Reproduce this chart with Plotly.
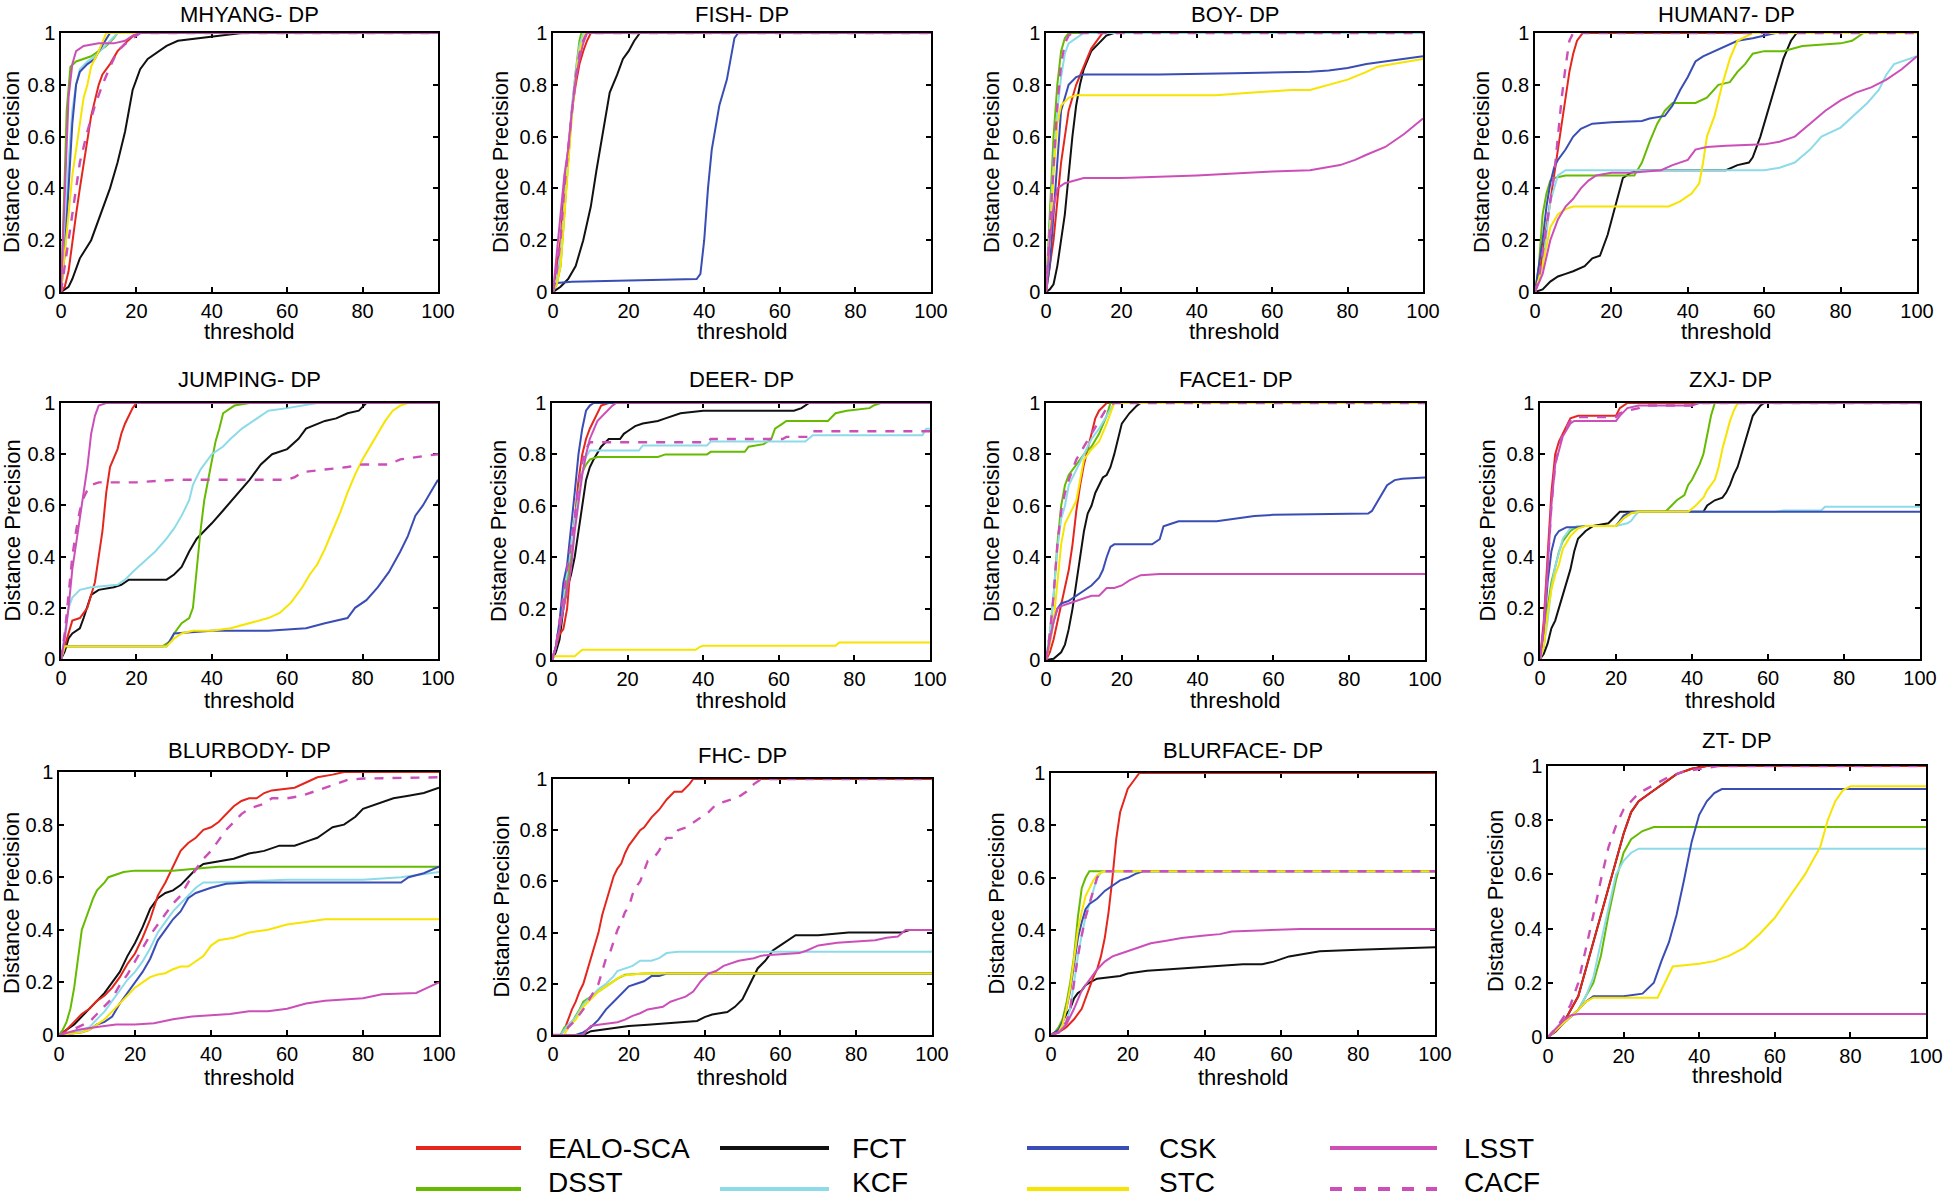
import plotly.graph_objects as go

# ---------------- data ----------------
SERIES = ["EALO-SCA", "FCT", "CSK", "LSST", "DSST", "KCF", "STC", "CACF"]
DRAW_ORDER = ["FCT", "EALO-SCA", "DSST", "KCF", "CSK", "STC", "LSST", "CACF"]
COLORS = {"EALO-SCA": "#e5261c", "FCT": "#111111", "CSK": "#3a4db5", "LSST": "#cc4fb8",
          "DSST": "#66bb00", "KCF": "#8ddbe8", "STC": "#f7e400", "CACF": "#cc4fb8"}
X_TICKS = [0, 20, 40, 60, 80, 100]
Y_TICKS = [0, 0.2, 0.4, 0.6, 0.8, 1]
TITLES = ["MHYANG- DP", "FISH- DP", "BOY- DP", "HUMAN7- DP", "JUMPING- DP", "DEER- DP",
          "FACE1- DP", "ZXJ- DP", "BLURBODY- DP", "FHC- DP", "BLURFACE- DP", "ZT- DP"]

MHYANG = {
    "EALO-SCA": [(0,0),(1,0.02),(2,0.08),(3,0.2),(4,0.3),(5,0.4),(6,0.5),(7,0.6),(8,0.68),(10,0.8),(11,0.84),(13,0.88),(15,0.93),(17,0.96),(20,1),(100,1)],
    "FCT": [(0,0),(2,0.02),(3,0.05),(5,0.13),(8,0.2),(11,0.32),(13,0.4),(15,0.5),(17,0.62),(18,0.7),(19,0.78),(20,0.82),(21,0.86),(23,0.9),(25,0.92),(28,0.95),(31,0.97),(40,0.985),(45,0.995),(48,1),(100,1)],
    "CSK": [(0,0),(1,0.15),(2,0.4),(3,0.65),(4,0.8),(5,0.85),(7,0.88),(9,0.9),(10,0.93),(12,0.98),(13,1),(100,1)],
    "LSST": [(0,0),(0.5,0.2),(1,0.4),(1.5,0.6),(2,0.75),(3,0.88),(4,0.93),(6,0.95),(10,0.96),(14,0.96),(17,0.97),(19,0.99),(21,1),(100,1)],
    "DSST": [(0,0),(0.5,0.2),(1,0.45),(1.5,0.7),(2,0.8),(2.5,0.87),(4,0.89),(6,0.9),(8,0.91),(10,0.93),(12,0.95),(14,0.98),(15,1),(100,1)],
    "KCF": [(0,0),(1,0.2),(2,0.5),(3,0.7),(4,0.8),(5,0.86),(7,0.89),(9,0.91),(11,0.94),(13,0.97),(15,1),(100,1)],
    "STC": [(0,0),(1,0.15),(2,0.3),(3,0.45),(4,0.55),(5,0.65),(6,0.75),(7,0.8),(8,0.87),(10,0.93),(12,1),(100,1)],
    "CACF": [(0,0),(1,0.1),(2,0.2),(3,0.3),(4,0.4),(5,0.5),(7,0.62),(9,0.72),(11,0.8),(13,0.87),(15,0.93),(18,0.97),(21,1),(100,1)],
}
FISH = {
    "EALO-SCA": [(0,0),(1,0.1),(2,0.2),(3,0.4),(4,0.55),(5,0.7),(6,0.8),(7,0.88),(8,0.93),(9,0.97),(10,1),(100,1)],
    "FCT": [(0,0),(2,0.02),(4,0.05),(6,0.1),(8,0.2),(10,0.33),(11.5,0.47),(13,0.6),(14,0.7),(15,0.77),(17,0.84),(18.5,0.9),(20,0.93),(21.5,0.97),(23,1),(100,1)],
    "CSK": [(0,0.02),(1,0.035),(5,0.04),(20,0.045),(30,0.05),(38,0.05),(39,0.07),(40,0.2),(41,0.4),(42,0.55),(44,0.72),(46,0.82),(47,0.9),(48,0.98),(49,1),(100,1)],
    "LSST": [(0,0),(1,0.15),(2,0.3),(3,0.45),(4,0.55),(5,0.7),(6,0.82),(7,0.9),(8,0.96),(9,1),(100,1)],
    "DSST": [(0,0),(1,0.03),(2,0.1),(3,0.3),(4,0.5),(5,0.7),(6,0.85),(7,0.97),(7.5,1),(100,1)],
    "KCF": [(0,0),(1,0.05),(2,0.15),(3,0.35),(4,0.55),(5,0.72),(6,0.85),(7,0.95),(8,1),(100,1)],
    "STC": [(0,0.01),(1,0.03),(2,0.1),(3,0.3),(4,0.5),(5,0.68),(6,0.83),(7,0.93),(8.5,1),(100,1)],
    "CACF": [(0,0),(1,0.08),(2,0.2),(3,0.4),(4,0.55),(5,0.7),(6,0.83),(7,0.92),(8,0.97),(9,1),(100,1)],
}
BOY = {
    "EALO-SCA": [(0,0),(1,0.1),(2,0.2),(3,0.35),(4,0.5),(5,0.6),(6,0.7),(8,0.8),(10,0.87),(12,0.94),(14,0.98),(15,1),(100,1)],
    "FCT": [(0,0),(1,0.01),(2,0.03),(3,0.1),(4,0.2),(5,0.3),(6,0.45),(7,0.6),(8,0.72),(9,0.8),(10,0.86),(12,0.93),(14,0.96),(16,0.99),(18,1),(100,1)],
    "CSK": [(0,0),(1,0.1),(2,0.3),(3,0.5),(4,0.7),(6,0.8),(8,0.83),(10,0.84),(30,0.84),(50,0.845),(70,0.85),(75,0.855),(80,0.865),(85,0.88),(90,0.89),(95,0.9),(100,0.91)],
    "LSST": [(0,0),(1,0.2),(2,0.33),(3,0.4),(5,0.42),(10,0.44),(20,0.44),(40,0.45),(60,0.465),(70,0.47),(78,0.49),(82,0.51),(85,0.53),(90,0.56),(95,0.61),(100,0.67)],
    "DSST": [(0,0),(1,0.3),(2,0.6),(3,0.8),(4,0.93),(5,0.98),(6,1),(100,1)],
    "KCF": [(0,0),(1,0.25),(2,0.5),(3,0.7),(4,0.83),(5,0.92),(6,0.96),(8,0.98),(10,1),(100,1)],
    "STC": [(0,0),(1,0.2),(2,0.45),(3,0.65),(4,0.72),(6,0.75),(8,0.76),(20,0.76),(45,0.76),(55,0.77),(65,0.78),(70,0.78),(75,0.8),(80,0.82),(85,0.85),(88,0.87),(92,0.88),(100,0.9)],
    "CACF": [(0,0),(1,0.25),(2,0.5),(3,0.72),(4,0.88),(5,0.96),(6,0.99),(7,1),(100,1)],
}
HUMAN7 = {
    "EALO-SCA": [(0,0),(1,0.05),(2,0.15),(3,0.25),(4,0.35),(5,0.45),(6,0.55),(7,0.65),(8,0.75),(9,0.85),(10,0.92),(11,0.97),(12.5,1),(100,1)],
    "FCT": [(0,0),(2,0.01),(4,0.04),(6,0.06),(8,0.07),(10,0.08),(13,0.1),(15,0.13),(17,0.14),(19,0.22),(21,0.33),(23,0.44),(25,0.46),(28,0.47),(50,0.47),(53,0.49),(56,0.5),(57,0.52),(59,0.6),(61,0.7),(63,0.8),(65,0.9),(67,0.97),(68.5,1),(100,1)],
    "CSK": [(0,0),(1,0.1),(2,0.2),(3,0.33),(4,0.42),(5,0.48),(6,0.51),(8,0.55),(10,0.6),(12,0.63),(15,0.65),(20,0.655),(28,0.66),(30,0.67),(34,0.68),(36,0.72),(38,0.78),(40,0.83),(42,0.89),(44,0.91),(47,0.93),(50,0.95),(53,0.97),(57,0.98),(60,0.99),(63,1),(100,1)],
    "LSST": [(0,0),(2,0.07),(4,0.2),(6,0.28),(8,0.33),(10,0.36),(12,0.4),(14,0.43),(16,0.45),(20,0.46),(25,0.46),(33,0.47),(36,0.49),(40,0.51),(42,0.55),(45,0.56),(50,0.565),(60,0.57),(64,0.58),(68,0.6),(72,0.65),(76,0.7),(80,0.74),(84,0.77),(88,0.79),(92,0.82),(96,0.86),(100,0.91)],
    "DSST": [(0,0),(1,0.1),(2,0.3),(3,0.38),(4,0.43),(5,0.44),(8,0.45),(20,0.45),(26,0.45),(28,0.5),(30,0.58),(32,0.65),(34,0.7),(36,0.73),(42,0.73),(45,0.75),(48,0.8),(51,0.81),(53,0.85),(55,0.88),(57,0.92),(60,0.93),(65,0.93),(70,0.95),(80,0.96),(83,0.97),(86,1),(100,1)],
    "KCF": [(0,0),(2,0.1),(4,0.35),(6,0.45),(8,0.47),(20,0.47),(40,0.47),(60,0.47),(64,0.48),(68,0.5),(72,0.55),(75,0.6),(80,0.635),(84,0.69),(87,0.73),(90,0.78),(92,0.84),(94,0.88),(97,0.895),(100,0.91)],
    "STC": [(0,0),(2,0.1),(4,0.25),(6,0.3),(8,0.32),(10,0.33),(20,0.33),(35,0.33),(38,0.35),(41,0.38),(43,0.42),(44,0.5),(45,0.6),(47,0.68),(49,0.8),(51,0.9),(53,0.97),(57,1),(100,1)],
    "CACF": [(0,0),(1,0.05),(2,0.15),(3,0.25),(4,0.35),(5,0.45),(6,0.6),(7,0.75),(8,0.87),(9,0.97),(10,1),(100,1)],
}
JUMPING = {
    "EALO-SCA": [(0,0),(1,0.05),(2,0.1),(3,0.15),(5,0.16),(6,0.18),(7,0.2),(8,0.25),(9,0.3),(10,0.4),(11,0.5),(12,0.65),(13,0.75),(15,0.82),(16,0.88),(17,0.92),(19,0.98),(20,1),(100,1)],
    "FCT": [(0,0),(1,0.03),(2,0.08),(3,0.1),(5,0.12),(6,0.16),(8,0.25),(10,0.27),(14,0.28),(16,0.29),(18,0.31),(28,0.31),(30,0.33),(32,0.36),(34,0.42),(36,0.47),(38,0.5),(40,0.53),(43,0.58),(46,0.63),(50,0.7),(53,0.76),(56,0.8),(60,0.82),(63,0.86),(65,0.9),(70,0.93),(73,0.94),(76,0.96),(79,0.97),(81,1),(100,1)],
    "CSK": [(0,0),(1,0.05),(28,0.05),(30,0.1),(40,0.11),(55,0.11),(60,0.115),(65,0.12),(70,0.14),(76,0.16),(78,0.2),(81,0.23),(84,0.28),(87,0.34),(90,0.42),(92,0.48),(94,0.56),(96,0.6),(98,0.65),(100,0.7)],
    "LSST": [(0,0),(1,0.08),(2,0.2),(3,0.35),(4,0.45),(5,0.55),(6,0.65),(7,0.75),(8,0.88),(9,0.95),(10,0.99),(12,1),(100,1)],
    "DSST": [(0,0),(1,0.05),(10,0.05),(20,0.05),(27,0.05),(29,0.07),(30,0.1),(32,0.14),(34,0.16),(35,0.2),(36,0.35),(37,0.5),(38,0.62),(39,0.7),(40,0.78),(41,0.85),(42,0.9),(43,0.96),(46,0.99),(50,1),(100,1)],
    "KCF": [(0,0),(1,0.1),(2,0.2),(3,0.24),(5,0.27),(8,0.28),(15,0.29),(17,0.31),(19,0.34),(22,0.38),(25,0.42),(28,0.47),(30,0.51),(32,0.56),(34,0.62),(35,0.68),(37,0.74),(40,0.8),(43,0.83),(45,0.86),(48,0.9),(52,0.94),(55,0.97),(60,0.98),(68,1),(100,1)],
    "STC": [(0,0),(1,0.05),(10,0.05),(28,0.05),(30,0.08),(32,0.1),(35,0.11),(40,0.11),(45,0.12),(50,0.14),(55,0.16),(58,0.18),(61,0.22),(64,0.28),(66,0.33),(68,0.37),(70,0.43),(72,0.5),(74,0.57),(76,0.65),(78,0.72),(80,0.78),(82,0.83),(84,0.88),(86,0.93),(88,0.97),(90,0.99),(92,1),(100,1)],
    "CACF": [(0,0),(1,0.1),(2,0.25),(3,0.4),(4,0.5),(5,0.58),(6,0.63),(7,0.66),(8,0.68),(10,0.69),(20,0.69),(30,0.7),(50,0.7),(60,0.7),(62,0.71),(64,0.73),(70,0.74),(76,0.75),(80,0.76),(87,0.76),(90,0.78),(95,0.79),(100,0.8)],
}
DEER = {
    "EALO-SCA": [(0,0),(1,0.05),(2,0.1),(3,0.12),(4,0.2),(5,0.38),(6,0.55),(7,0.7),(8,0.8),(9,0.86),(10,0.9),(11,0.93),(12,0.96),(13,0.99),(15,1),(100,1)],
    "FCT": [(0,0),(1,0.03),(2,0.08),(3,0.2),(4,0.28),(5,0.33),(6,0.4),(7,0.5),(8,0.6),(9,0.7),(10,0.75),(11,0.78),(13,0.83),(15,0.86),(18,0.86),(19,0.88),(20,0.89),(22,0.91),(24,0.92),(28,0.93),(30,0.94),(34,0.96),(40,0.97),(64,0.97),(66,0.98),(68,1),(100,1)],
    "CSK": [(0,0),(1,0.05),(2,0.15),(3,0.3),(4,0.37),(5,0.5),(6,0.65),(7,0.8),(8,0.9),(9,0.97),(10,0.99),(11,1),(100,1)],
    "LSST": [(0,0),(1,0.05),(2,0.12),(3,0.2),(4,0.28),(5,0.35),(6,0.5),(7,0.62),(8,0.72),(9,0.8),(10,0.86),(12,0.93),(14,0.96),(16,0.99),(17,1),(100,1)],
    "DSST": [(0,0),(1,0.05),(2,0.12),(3,0.22),(4,0.3),(5,0.4),(6,0.55),(7,0.65),(8,0.73),(9,0.76),(10,0.78),(12,0.79),(20,0.79),(28,0.79),(30,0.8),(41,0.8),(42,0.81),(51,0.81),(52,0.83),(56,0.84),(58,0.86),(59,0.9),(61,0.92),(62,0.93),(73,0.93),(75,0.96),(78,0.97),(84,0.98),(85,0.99),(87,1),(100,1)],
    "KCF": [(0,0),(1,0.05),(2,0.15),(3,0.25),(4,0.35),(5,0.45),(6,0.55),(7,0.65),(8,0.73),(9,0.79),(10,0.815),(23,0.815),(24,0.835),(41,0.835),(42,0.85),(67,0.85),(69,0.875),(98,0.875),(99,0.9),(100,0.9)],
    "STC": [(0,0.015),(6,0.015),(8,0.04),(20,0.04),(38,0.04),(39,0.05),(40,0.055),(75,0.055),(76,0.068),(100,0.068)],
    "CACF": [(0,0),(1,0.05),(2,0.15),(3,0.25),(4,0.33),(5,0.43),(6,0.55),(7,0.68),(8,0.77),(9,0.82),(10,0.847),(41,0.847),(42,0.86),(61,0.86),(62,0.868),(68,0.868),(69,0.89),(100,0.89)],
}
FACE1 = {
    "EALO-SCA": [(0,0),(1,0.03),(2,0.08),(3,0.15),(4,0.22),(5,0.28),(6,0.35),(7,0.45),(8,0.58),(9,0.68),(10,0.76),(11,0.82),(12,0.88),(13,0.94),(14,0.97),(16,1),(100,1)],
    "FCT": [(0,0),(2,0.005),(4,0.03),(5,0.06),(6,0.12),(7,0.2),(8,0.3),(9,0.4),(10,0.5),(11,0.57),(12,0.6),(13,0.65),(15,0.71),(16,0.72),(17,0.75),(18,0.8),(19,0.86),(20,0.92),(22,0.96),(24,0.99),(25,1),(100,1)],
    "CSK": [(0,0),(1,0.07),(2,0.15),(3,0.2),(4,0.22),(6,0.23),(8,0.25),(10,0.27),(12,0.29),(14,0.32),(15,0.35),(16,0.4),(17,0.44),(18,0.45),(28,0.45),(30,0.47),(31,0.52),(33,0.53),(35,0.54),(45,0.54),(50,0.55),(55,0.56),(60,0.565),(85,0.57),(86,0.58),(88,0.63),(90,0.68),(92,0.7),(94,0.705),(100,0.71)],
    "LSST": [(0,0),(1,0.08),(2,0.15),(3,0.2),(4,0.21),(6,0.22),(8,0.23),(10,0.24),(12,0.25),(14,0.25),(16,0.28),(18,0.28),(20,0.29),(22,0.31),(25,0.33),(30,0.335),(40,0.335),(100,0.335)],
    "DSST": [(0,0),(1,0.1),(2,0.25),(3,0.45),(4,0.6),(5,0.68),(6,0.72),(8,0.76),(10,0.8),(12,0.83),(14,0.88),(16,0.95),(17,1),(100,1)],
    "KCF": [(0,0),(1,0.1),(2,0.25),(3,0.43),(4,0.55),(5,0.6),(6,0.68),(8,0.74),(10,0.8),(12,0.86),(14,0.9),(16,0.95),(18,1),(100,1)],
    "STC": [(0,0),(1,0.06),(2,0.15),(3,0.3),(4,0.45),(5,0.53),(6,0.56),(8,0.62),(9,0.7),(10,0.78),(12,0.82),(14,0.85),(16,0.92),(18,1),(100,1)],
    "CACF": [(0,0),(1,0.1),(2,0.25),(3,0.45),(4,0.58),(5,0.65),(6,0.7),(8,0.78),(10,0.83),(12,0.88),(14,0.93),(16,0.98),(18,1),(100,1)],
}
ZXJ = {
    "EALO-SCA": [(0,0),(1,0.15),(2,0.4),(3,0.65),(4,0.8),(5,0.85),(6,0.88),(7,0.91),(8,0.94),(10,0.95),(20,0.95),(21,0.98),(22,0.99),(23,1),(100,1)],
    "FCT": [(0,0),(1,0.02),(2,0.06),(3,0.12),(4,0.15),(5,0.2),(6,0.25),(7,0.3),(8,0.35),(9,0.42),(10,0.47),(12,0.5),(14,0.52),(18,0.53),(20,0.56),(21,0.575),(43,0.575),(44,0.6),(46,0.62),(48,0.63),(49,0.65),(50,0.68),(51,0.72),(52,0.75),(53,0.8),(54,0.85),(55,0.9),(56,0.95),(57,0.97),(58,0.99),(59,1),(100,1)],
    "CSK": [(0,0),(1,0.1),(2,0.3),(3,0.42),(4,0.48),(5,0.5),(7,0.515),(10,0.515),(12,0.52),(20,0.52),(21,0.54),(22,0.56),(24,0.575),(100,0.575)],
    "LSST": [(0,0),(1,0.12),(2,0.35),(3,0.6),(4,0.76),(5,0.82),(6,0.87),(8,0.92),(9,0.93),(20,0.93),(21,0.95),(23,0.98),(26,0.99),(40,0.99),(42,1),(100,1)],
    "DSST": [(0,0),(1,0.05),(2,0.2),(3,0.3),(4,0.36),(5,0.42),(6,0.46),(8,0.5),(10,0.52),(20,0.52),(22,0.55),(24,0.57),(26,0.575),(33,0.575),(34,0.59),(36,0.62),(38,0.64),(39,0.68),(40,0.7),(41,0.73),(42,0.76),(43,0.8),(44,0.88),(45,0.95),(46,1),(100,1)],
    "KCF": [(0,0),(1,0.05),(2,0.15),(3,0.28),(4,0.36),(5,0.42),(6,0.47),(8,0.51),(10,0.52),(20,0.52),(23,0.53),(24,0.54),(25,0.56),(26,0.575),(62,0.575),(64,0.58),(74,0.58),(75,0.595),(100,0.595)],
    "STC": [(0,0),(1,0.05),(2,0.18),(3,0.27),(4,0.33),(5,0.37),(6,0.43),(8,0.48),(10,0.51),(12,0.52),(20,0.52),(22,0.55),(24,0.57),(26,0.575),(39,0.575),(41,0.6),(43,0.63),(44,0.66),(46,0.7),(47,0.75),(48,0.82),(49,0.88),(50,0.93),(51,0.97),(52,1),(100,1)],
    "CACF": [(0,0),(1,0.12),(2,0.35),(3,0.6),(4,0.76),(5,0.83),(6,0.88),(8,0.93),(9,0.945),(20,0.945),(21,0.96),(23,0.97),(26,0.98),(27,0.99),(40,0.99),(42,1),(100,1)],
}
BLURBODY = {
    "EALO-SCA": [(0,0),(2,0.02),(4,0.05),(6,0.08),(8,0.1),(10,0.13),(12,0.15),(14,0.18),(16,0.22),(18,0.27),(20,0.31),(22,0.37),(24,0.44),(26,0.53),(28,0.58),(30,0.64),(32,0.7),(34,0.73),(36,0.75),(38,0.78),(40,0.79),(42,0.81),(44,0.84),(46,0.87),(48,0.89),(50,0.9),(52,0.9),(54,0.92),(56,0.93),(60,0.935),(62,0.94),(65,0.96),(68,0.98),(72,0.99),(75,1),(100,1)],
    "FCT": [(0,0),(2,0.02),(4,0.04),(6,0.07),(8,0.1),(10,0.13),(12,0.16),(14,0.2),(16,0.24),(18,0.3),(20,0.35),(22,0.41),(24,0.48),(26,0.52),(28,0.54),(30,0.55),(32,0.57),(34,0.6),(36,0.63),(38,0.65),(42,0.66),(46,0.67),(50,0.69),(54,0.7),(58,0.72),(62,0.72),(66,0.74),(68,0.75),(70,0.77),(72,0.79),(75,0.8),(78,0.83),(80,0.86),(84,0.88),(88,0.9),(92,0.91),(96,0.92),(100,0.94)],
    "CSK": [(0,0),(6,0.01),(8,0.02),(10,0.04),(12,0.05),(14,0.07),(16,0.12),(18,0.16),(20,0.2),(22,0.24),(24,0.29),(26,0.36),(28,0.4),(30,0.44),(32,0.47),(34,0.52),(36,0.54),(38,0.55),(40,0.56),(44,0.575),(50,0.58),(70,0.58),(90,0.58),(92,0.6),(96,0.615),(100,0.64)],
    "LSST": [(0,0),(5,0.02),(10,0.03),(15,0.04),(20,0.04),(25,0.045),(30,0.06),(35,0.07),(40,0.075),(45,0.08),(50,0.09),(55,0.09),(60,0.1),(65,0.12),(70,0.13),(75,0.135),(80,0.14),(85,0.155),(94,0.16),(97,0.18),(100,0.2)],
    "DSST": [(0,0),(1,0.02),(2,0.05),(3,0.1),(4,0.18),(5,0.3),(6,0.4),(7,0.44),(8,0.48),(9,0.52),(10,0.55),(12,0.58),(13,0.6),(15,0.61),(17,0.62),(20,0.625),(30,0.625),(38,0.635),(42,0.64),(100,0.64)],
    "KCF": [(0,0),(4,0.01),(8,0.03),(10,0.06),(12,0.09),(14,0.13),(16,0.17),(18,0.21),(20,0.24),(22,0.28),(24,0.33),(26,0.39),(28,0.43),(30,0.47),(32,0.5),(34,0.53),(36,0.56),(38,0.58),(40,0.58),(60,0.59),(70,0.59),(80,0.59),(90,0.6),(95,0.61),(100,0.62)],
    "STC": [(0,0),(6,0.01),(8,0.02),(10,0.04),(12,0.06),(14,0.09),(16,0.12),(18,0.15),(20,0.18),(22,0.2),(24,0.22),(26,0.23),(28,0.235),(30,0.25),(32,0.26),(34,0.26),(36,0.28),(38,0.3),(40,0.34),(42,0.36),(46,0.37),(50,0.39),(55,0.4),(60,0.42),(65,0.43),(70,0.44),(100,0.44)],
    "CACF": [(0,0),(2,0.01),(5,0.03),(8,0.05),(10,0.08),(12,0.11),(14,0.14),(16,0.19),(18,0.23),(20,0.28),(22,0.33),(24,0.38),(26,0.42),(28,0.46),(30,0.5),(32,0.53),(34,0.58),(36,0.63),(38,0.67),(40,0.7),(42,0.74),(44,0.78),(46,0.81),(48,0.84),(50,0.86),(52,0.87),(54,0.88),(56,0.9),(60,0.9),(64,0.91),(68,0.93),(72,0.95),(76,0.97),(80,0.975),(100,0.98)],
}
FHC = {
    "EALO-SCA": [(0,0),(2,0),(3,0.02),(4,0.06),(5,0.1),(6,0.13),(7,0.17),(8,0.2),(9,0.25),(10,0.3),(11,0.35),(12,0.4),(13,0.47),(14,0.52),(15,0.57),(16,0.62),(17,0.65),(18,0.67),(19,0.71),(20,0.74),(22,0.78),(23,0.8),(24,0.81),(26,0.85),(28,0.88),(30,0.92),(32,0.95),(34,0.95),(36,0.98),(37,1),(100,1)],
    "FCT": [(0,0),(8,0),(10,0.015),(15,0.025),(20,0.035),(25,0.04),(30,0.045),(35,0.05),(38,0.055),(40,0.07),(42,0.08),(44,0.085),(46,0.09),(48,0.11),(50,0.14),(52,0.2),(54,0.26),(56,0.29),(58,0.33),(60,0.35),(62,0.37),(64,0.39),(70,0.39),(75,0.395),(78,0.4),(92,0.4),(94,0.41),(100,0.41)],
    "CSK": [(0,0),(6,0),(8,0.01),(10,0.03),(12,0.06),(14,0.1),(16,0.13),(18,0.16),(20,0.19),(22,0.2),(24,0.21),(26,0.23),(28,0.23),(30,0.24),(100,0.24)],
    "LSST": [(0,0),(8,0),(9,0.02),(10,0.035),(12,0.04),(15,0.045),(17,0.05),(19,0.06),(21,0.075),(23,0.085),(25,0.1),(29,0.11),(31,0.13),(33,0.14),(35,0.15),(37,0.17),(39,0.21),(41,0.24),(43,0.25),(45,0.27),(47,0.28),(49,0.29),(51,0.295),(53,0.3),(55,0.31),(60,0.315),(65,0.32),(67,0.33),(70,0.35),(75,0.36),(80,0.365),(85,0.37),(88,0.38),(91,0.385),(93,0.41),(100,0.41)],
    "DSST": [(0,0),(2,0),(3,0.03),(5,0.05),(7,0.1),(8,0.13),(10,0.15),(12,0.17),(14,0.19),(16,0.21),(17,0.22),(19,0.235),(24,0.24),(100,0.24)],
    "KCF": [(0,0),(2,0),(3,0.02),(4,0.04),(6,0.07),(8,0.12),(10,0.15),(12,0.18),(14,0.2),(16,0.23),(17,0.25),(19,0.26),(21,0.27),(23,0.29),(26,0.29),(28,0.3),(30,0.32),(33,0.325),(100,0.325)],
    "STC": [(0,0),(3,0),(4,0.03),(6,0.06),(8,0.11),(10,0.14),(12,0.17),(14,0.19),(16,0.21),(18,0.23),(20,0.235),(24,0.24),(100,0.24)],
    "CACF": [(0,0),(3,0),(4,0.03),(6,0.06),(8,0.1),(10,0.15),(12,0.2),(13,0.25),(14,0.3),(15,0.32),(16,0.37),(17,0.41),(18,0.44),(19,0.48),(20,0.5),(21,0.55),(22,0.58),(23,0.6),(24,0.64),(25,0.68),(27,0.7),(28,0.72),(29,0.75),(30,0.77),(32,0.77),(33,0.8),(35,0.81),(37,0.83),(39,0.85),(41,0.87),(43,0.9),(45,0.91),(47,0.92),(49,0.93),(51,0.95),(53,0.98),(55,1),(100,1)],
}
BLURFACE = {
    "EALO-SCA": [(0,0),(2,0.01),(4,0.03),(6,0.06),(8,0.1),(9,0.14),(10,0.18),(11,0.22),(12,0.25),(13,0.3),(14,0.37),(15,0.47),(16,0.6),(17,0.75),(18,0.85),(19,0.9),(20,0.94),(22,0.98),(23,1),(100,1)],
    "FCT": [(0,0),(2,0.02),(3,0.05),(4,0.08),(5,0.1),(6,0.14),(7,0.16),(8,0.17),(9,0.19),(10,0.2),(12,0.215),(16,0.22),(18,0.225),(20,0.235),(25,0.245),(30,0.25),(40,0.26),(45,0.265),(50,0.27),(55,0.27),(58,0.28),(62,0.3),(66,0.31),(70,0.32),(80,0.325),(90,0.33),(100,0.335)],
    "CSK": [(0,0),(2,0.02),(3,0.05),(4,0.1),(5,0.17),(6,0.27),(7,0.37),(8,0.43),(9,0.48),(10,0.5),(12,0.52),(14,0.55),(16,0.57),(18,0.59),(20,0.6),(22,0.615),(24,0.625),(100,0.625)],
    "LSST": [(0,0),(2,0.01),(4,0.04),(6,0.1),(8,0.17),(10,0.21),(12,0.25),(14,0.28),(16,0.3),(18,0.31),(20,0.32),(24,0.34),(26,0.35),(30,0.36),(34,0.37),(40,0.38),(44,0.385),(47,0.395),(55,0.4),(65,0.405),(100,0.405)],
    "DSST": [(0,0),(1,0.01),(2,0.03),(3,0.06),(4,0.12),(5,0.2),(6,0.3),(7,0.45),(8,0.56),(9,0.6),(10,0.625),(100,0.625)],
    "KCF": [(0,0),(2,0.01),(4,0.05),(5,0.1),(6,0.2),(7,0.3),(8,0.38),(9,0.45),(10,0.5),(11,0.55),(12,0.6),(13,0.62),(14,0.625),(100,0.625)],
    "STC": [(0,0),(2,0.01),(3,0.04),(4,0.1),(5,0.18),(6,0.3),(7,0.4),(8,0.47),(9,0.53),(10,0.56),(11,0.59),(12,0.61),(13,0.62),(14,0.625),(100,0.625)],
    "CACF": [(0,0),(2,0.01),(4,0.05),(5,0.1),(6,0.2),(7,0.3),(8,0.38),(9,0.45),(10,0.5),(11,0.55),(12,0.6),(13,0.62),(14,0.625),(100,0.625)],
}
ZT = {
    "EALO-SCA": [(0,0),(2,0.02),(4,0.05),(6,0.1),(8,0.15),(10,0.25),(12,0.35),(14,0.45),(16,0.55),(18,0.65),(20,0.75),(22,0.83),(24,0.87),(26,0.89),(30,0.93),(34,0.97),(38,0.99),(42,1),(100,1)],
    "FCT": [(0,0),(2,0.02),(4,0.05),(6,0.1),(8,0.15),(10,0.25),(12,0.35),(14,0.45),(16,0.55),(18,0.65),(20,0.75),(22,0.83),(24,0.87),(26,0.89),(30,0.93),(34,0.97),(38,0.99),(42,1),(100,1)],
    "CSK": [(0,0),(4,0.05),(8,0.1),(10,0.13),(12,0.15),(20,0.15),(25,0.16),(28,0.2),(30,0.28),(32,0.35),(34,0.45),(36,0.58),(38,0.72),(40,0.82),(42,0.87),(44,0.9),(46,0.915),(100,0.915)],
    "LSST": [(0,0),(2,0.03),(4,0.06),(6,0.08),(8,0.085),(100,0.085)],
    "DSST": [(0,0),(4,0.05),(8,0.1),(10,0.15),(12,0.2),(14,0.3),(16,0.45),(18,0.58),(20,0.68),(22,0.73),(25,0.76),(28,0.775),(100,0.775)],
    "KCF": [(0,0),(4,0.05),(8,0.1),(10,0.15),(12,0.22),(14,0.35),(16,0.48),(18,0.6),(20,0.65),(22,0.68),(24,0.695),(100,0.695)],
    "STC": [(0,0),(4,0.05),(8,0.1),(10,0.13),(12,0.145),(29,0.145),(31,0.2),(33,0.26),(40,0.27),(44,0.28),(48,0.3),(52,0.33),(56,0.38),(60,0.44),(63,0.5),(66,0.56),(68,0.6),(70,0.65),(72,0.7),(74,0.8),(76,0.87),(78,0.91),(80,0.925),(100,0.925)],
    "CACF": [(0,0),(2,0.03),(4,0.07),(6,0.12),(8,0.2),(10,0.32),(12,0.45),(14,0.58),(16,0.7),(18,0.78),(20,0.84),(22,0.87),(24,0.9),(28,0.93),(32,0.96),(36,0.98),(40,0.99),(45,1),(100,1)],
}
PLOTS = [MHYANG, FISH, BOY, HUMAN7, JUMPING, DEER, FACE1, ZXJ, BLURBODY, FHC, BLURFACE, ZT]

# ---------------- layout geometry (pixels) ----------------
W, H = 1946, 1200
BOXES = [(61, 438, 33, 292), (553, 931, 33, 292), (1046, 1423, 33, 292), (1535, 1917, 33, 292),
         (61, 438, 403, 659), (552, 930, 403, 660), (1046, 1425, 403, 660), (1540, 1920, 403, 659),
         (59, 439, 772, 1035), (553, 932, 779, 1035), (1051, 1435, 773, 1035), (1548, 1926, 766, 1037)]
TITLE_Y = [0, 0, 0, 0, 365, 365, 365, 365, 736, 741, 736, 726]
XLAB_Y = [332, 332, 332, 332, 700, 700, 700, 700, 1077, 1077, 1077, 1075]
YLAB_X = [-3, 486, 977, 1467, -3, 484, 977, 1472, -3, 486, 981, 1481]

FONT = "Liberation Sans, Arial, sans-serif"


def px(x):
    return x / W


def py(y):
    return 1 - y / H


fig = go.Figure()
layout = dict(width=W, height=H, margin=dict(l=0, r=0, t=0, b=0, pad=0), autosize=False,
              template="none",
              paper_bgcolor="white", plot_bgcolor="white", showlegend=False,
              font=dict(family=FONT, color="black"))
annotations = []
for i, (data, box) in enumerate(zip(PLOTS, BOXES)):
    k = i + 1
    xa = "x" if k == 1 else f"x{k}"
    ya = "y" if k == 1 else f"y{k}"
    l, r, t, b = box
    axis_common = dict(showline=True, linecolor="black", linewidth=1.5, mirror="ticks",
                       ticks="inside", ticklen=5, tickwidth=1.5, tickcolor="black",
                       showgrid=False, zeroline=False, layer="below traces", automargin=False,
                       tickfont=dict(family=FONT, size=20, color="black"))
    layout["xaxis" if k == 1 else f"xaxis{k}"] = dict(
        domain=[px(l), px(r)], range=[0, 100], tickvals=X_TICKS,
        anchor=ya, **axis_common)
    layout["yaxis" if k == 1 else f"yaxis{k}"] = dict(
        domain=[py(b), py(t)], range=[0, 1], tickvals=Y_TICKS,
        ticktext=[f"{v:g}" for v in Y_TICKS], anchor=xa, **axis_common)
    for name in DRAW_ORDER:
        pts = data[name]
        fig.add_trace(go.Scatter(
            x=[p[0] for p in pts], y=[p[1] for p in pts], mode="lines", name=name,
            xaxis=xa, yaxis=ya, hoverinfo="skip",
            line=dict(color=COLORS[name], width=2.4 if name == "CACF" else 2,
                      dash="dash" if name == "CACF" else "solid")))
    cx = (l + r) / 2
    annotations.append(dict(text=TITLES[i], x=px(cx), y=py(TITLE_Y[i]), xref="paper", yref="paper",
                            showarrow=False, xanchor="center", yanchor="top",
                            font=dict(family=FONT, size=22, color="black")))
    annotations.append(dict(text="threshold", x=px(cx), y=py(XLAB_Y[i]), xref="paper", yref="paper",
                            showarrow=False, xanchor="center", yanchor="middle",
                            font=dict(family=FONT, size=22, color="black")))
    annotations.append(dict(text="Distance Precision", x=px(YLAB_X[i]), y=py((t + b) / 2),
                            xref="paper", yref="paper", showarrow=False, textangle=-90,
                            xanchor="left", yanchor="middle",
                            font=dict(family=FONT, size=22, color="black")))

# ---------------- legend (drawn as shapes + text) ----------------
LEG_COLS = [(416, 521, 546), (720, 829, 850), (1027, 1129, 1157), (1330, 1437, 1462)]
LEG_ROWS = [1148, 1189]
shapes = []
for idx, name in enumerate(SERIES):
    row, col = divmod(idx, 4)
    x0, x1, xt = LEG_COLS[col]
    yy = LEG_ROWS[row]
    shapes.append(dict(type="line", xref="paper", yref="paper", x0=px(x0), x1=px(x1),
                       y0=py(yy), y1=py(yy),
                       line=dict(color=COLORS[name], width=4,
                                 dash="dash" if name == "CACF" else "solid")))
    if row == 0:
        ann = dict(y=py(yy), yanchor="middle")
    else:
        ann = dict(y=py(1200), yanchor="bottom")
    annotations.append(dict(text=name, x=px(xt), xref="paper", yref="paper",
                            showarrow=False, xanchor="left",
                            font=dict(family=FONT, size=28, color="black"), **ann))

layout["annotations"] = annotations
layout["shapes"] = shapes
fig.update_layout(**layout)
fig.write_html("out.html", config={"displayModeBar": False},
               post_script="document.body.style.margin='0px';document.body.style.overflow='hidden';")
